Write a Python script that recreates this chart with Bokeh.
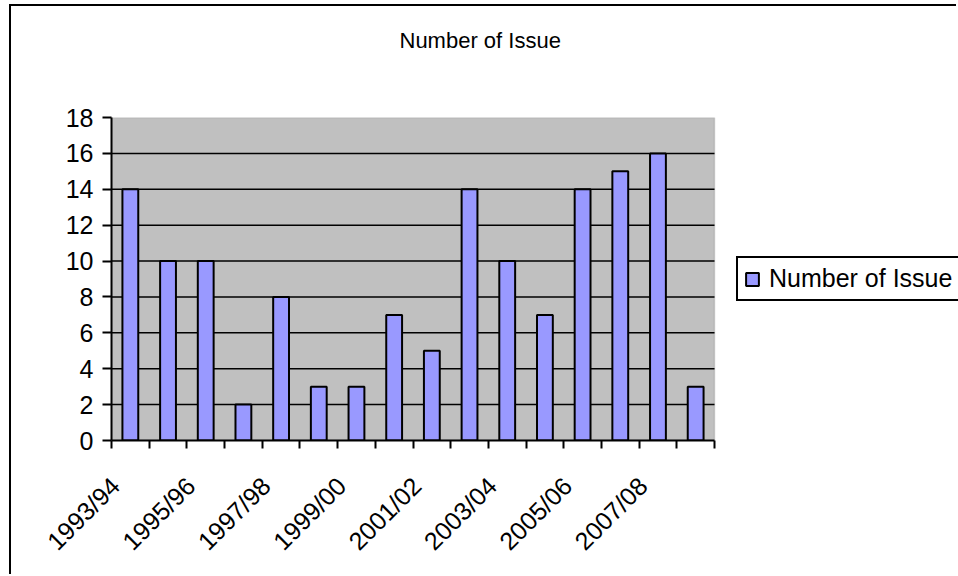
import math
from bokeh.plotting import figure
from bokeh.models import (Range1d, FixedTicker, LinearAxis, Legend, LegendItem,
                          ColumnDataSource, Title, BoxAnnotation)
from bokeh.embed import file_html
from bokeh.resources import INLINE

# ---- data ----
seasons = ["1993/94", "1994/95", "1995/96", "1996/97", "1997/98", "1998/99",
           "1999/00", "2000/01", "2001/02", "2002/03", "2003/04", "2004/05",
           "2005/06", "2006/07", "2007/08", "2008/09"]
issues = [14, 10, 10, 2, 8, 3, 3, 7, 5, 14, 10, 7, 14, 15, 16, 3]
y_ticks = [0, 2, 4, 6, 8, 10, 12, 14, 16, 18]
series_name = "Number of Issue"
title_text = "Number of Issue"

FONT = "Liberation Sans"
n = len(seasons)
y_max = y_ticks[-1]
xs = [i + 0.5 for i in range(n)]
# rotated labels hang to the lower left of their anchor, so anchor a bit left
LABEL_SHIFT = 0.4
labelled = {xs[i] - LABEL_SHIFT: seasons[i] for i in range(0, n - 1, 2)}
grid_y = y_ticks[1:-1]

src = ColumnDataSource(dict(x=xs, top=issues, season=seasons))

# plot area is 603 px for the n categories; the frame also holds the legend
FRAME_W = 847
x_end = n * FRAME_W / 603.0

p = figure(width=947, height=570, output_backend="svg", toolbar_location=None,
           x_range=Range1d(0, x_end), y_range=Range1d(0, y_max),
           x_axis_type=None, y_axis_type=None,
           min_border_left=100, min_border_right=0,
           min_border_top=111, min_border_bottom=136)
p.styles = {"margin-left": "9px", "margin-top": "4px",
            "border-top": "2px solid #000000", "border-left": "2px solid #000000"}
p.background_fill_color = "white"
p.border_fill_color = "white"
p.outline_line_color = None
p.grid.visible = False

# grey plot area
p.add_layout(BoxAnnotation(left=0, right=n, bottom=0, top=y_max,
                           fill_color="#C0C0C0", fill_alpha=1,
                           line_color="#808080", line_width=1.5,
                           level="underlay"))

# title (a blank spacer sits between it and the plot area)
p.add_layout(Title(text=" ", text_font_size="1px", standoff=62), "above")
p.add_layout(Title(text=title_text, align="left", offset=288, standoff=0,
                   text_font=FONT, text_font_size="22px",
                   text_font_style="normal", text_color="black"), "above")

# y axis
yax = LinearAxis(ticker=FixedTicker(ticks=y_ticks))
yax.axis_line_color = "black"
yax.axis_line_width = 2
yax.major_tick_line_color = "black"
yax.major_tick_line_width = 2
yax.major_tick_in = 0
yax.major_tick_out = 9
yax.minor_tick_line_color = None
yax.major_label_standoff = 9
yax.major_label_text_font = FONT
yax.major_label_text_font_size = "25px"
yax.major_label_text_color = "black"
p.add_layout(yax, "left")

# x axis: labels near category centres, ticks at category boundaries
xax = LinearAxis(ticker=FixedTicker(ticks=list(labelled.keys()),
                                    minor_ticks=list(range(n + 1))),
                 bounds=(0, n))
xax.axis_line_color = "black"
xax.axis_line_width = 2
xax.major_tick_line_color = None
xax.major_tick_in = 0
xax.major_tick_out = 8
xax.minor_tick_line_color = "black"
xax.minor_tick_line_width = 2
xax.minor_tick_in = 0
xax.minor_tick_out = 8
xax.major_label_overrides = labelled
xax.major_label_orientation = math.pi / 4
xax.major_label_standoff = 33
xax.major_label_text_font = FONT
xax.major_label_text_font_size = "25px"
xax.major_label_text_color = "black"
p.add_layout(xax, "below")

# horizontal gridlines across the plot area
p.segment(x0=[0] * len(grid_y), x1=[n] * len(grid_y), y0=grid_y, y1=grid_y,
          line_color="black", line_width=1.5)

bars = p.vbar(x="x", top="top", width=0.42, source=src,
              fill_color="#9999FF", line_color="black", line_width=2)

legend = Legend(items=[LegendItem(label=series_name, renderers=[bars])],
                location=(625, 139), margin=0, padding=6,
                glyph_width=16, glyph_height=16, label_standoff=9,
                label_text_font=FONT, label_text_font_size="25px",
                label_text_color="black",
                border_line_color="black", border_line_width=2,
                border_line_alpha=1,
                background_fill_color="white", background_fill_alpha=1)
p.add_layout(legend, "center")

html = file_html(p, INLINE)
open("out.html", "w").write(html)
